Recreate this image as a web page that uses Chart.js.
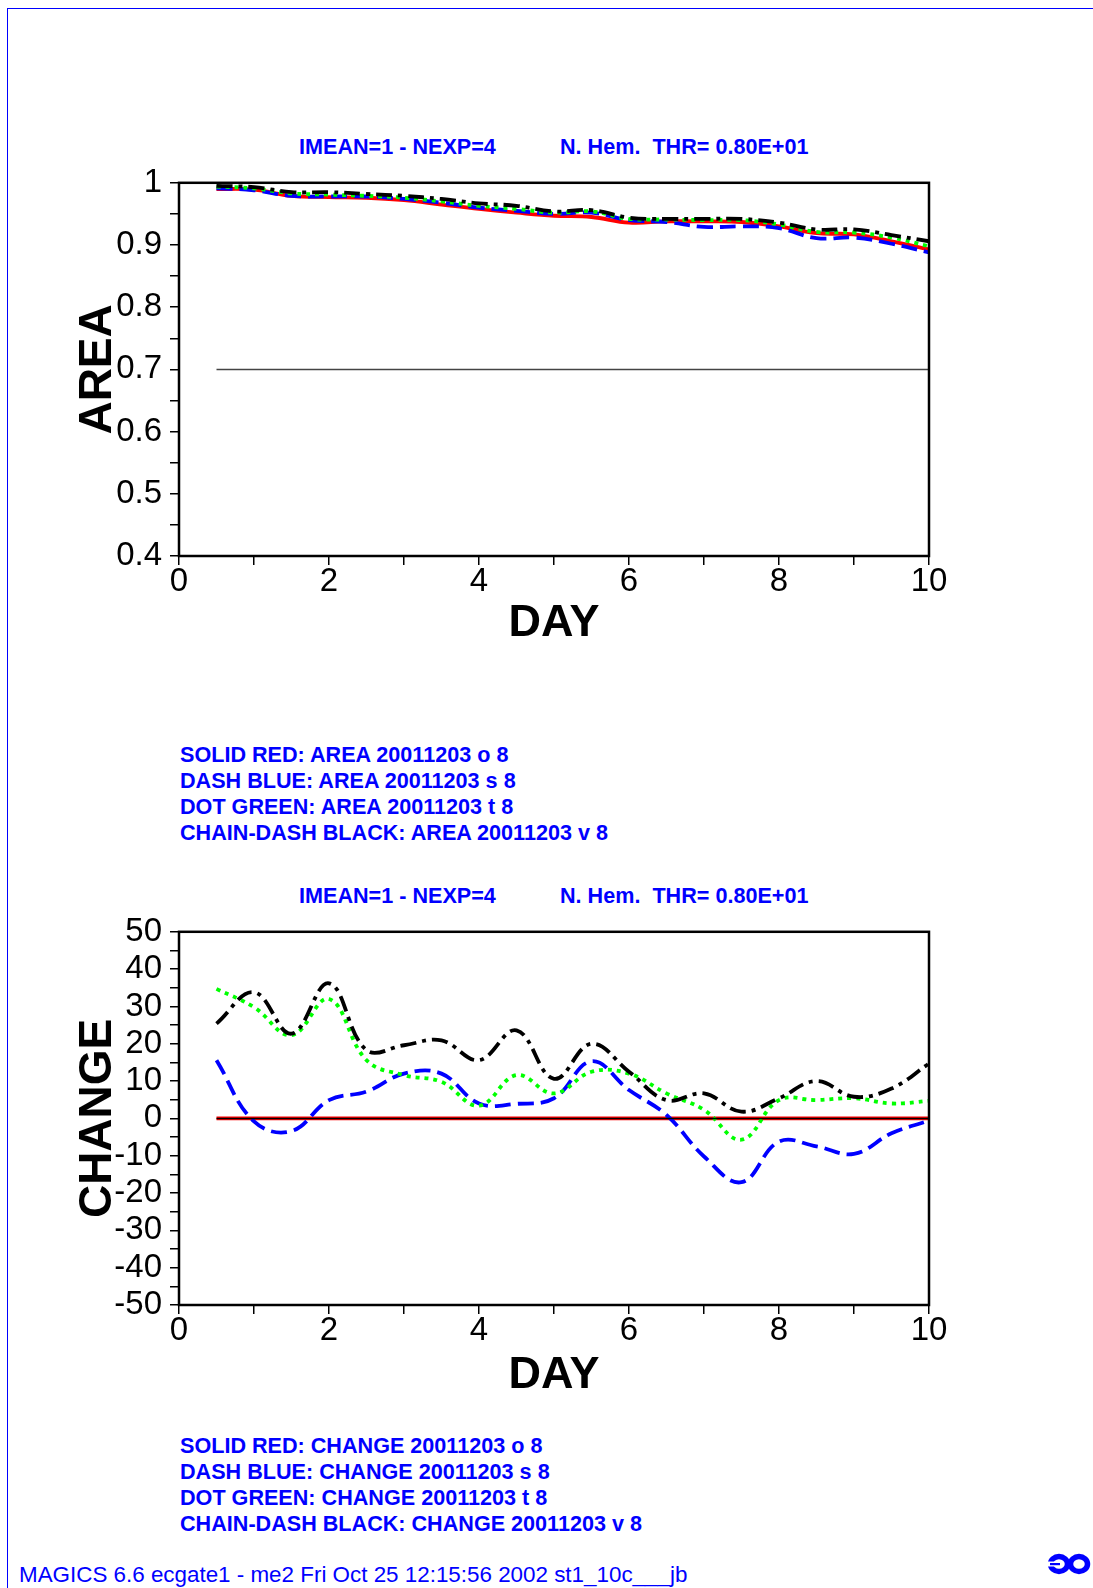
<!DOCTYPE html>
<html>
<head>
<meta charset="utf-8">
<script src="https://cdn.jsdelivr.net/npm/chart.js@4.4.0/dist/chart.umd.min.js"></script>
<style>
    body { margin: 0; width: 1093px; height: 1588px; position: relative; overflow: hidden; background: #fff;
           font-family: 'Liberation Sans', Arial, sans-serif; }
    .frame { position: absolute; left: 7px; top: 8px; right: 0; bottom: 0;
             border-top: 1.5px solid #0000ff; border-left: 1.5px solid #0000ff; }
    .txt { position: absolute; color: #0000ff; font-weight: bold; font-size: 21.6px; line-height: 26px; white-space: pre; }
    .foot { position: absolute; left: 19px; top: 1562px; color: #0000ff; font-size: 22.4px; line-height: 26px; white-space: pre; }
    canvas.chart { position: absolute; left: 0; }
</style>
</head>
<body>
<div class="frame"></div>

<div class="txt" style="left:299px; top:134px;">IMEAN=1 - NEXP=4</div>
<div class="txt" style="left:560px; top:134px;">N. Hem.  THR= 0.80E+01</div>
<canvas class="chart" id="areaChart" width="1093" height="505" style="top:155px;"></canvas>
<div class="txt" style="left:180px; top:742px;">SOLID RED: AREA 20011203 o 8
DASH BLUE: AREA 20011203 s 8
DOT GREEN: AREA 20011203 t 8
CHAIN-DASH BLACK: AREA 20011203 v 8</div>

<div class="txt" style="left:299px; top:883px;">IMEAN=1 - NEXP=4</div>
<div class="txt" style="left:560px; top:883px;">N. Hem.  THR= 0.80E+01</div>
<canvas class="chart" id="changeChart" width="1093" height="505" style="top:904px;"></canvas>
<div class="txt" style="left:180px; top:1433px;">SOLID RED: CHANGE 20011203 o 8
DASH BLUE: CHANGE 20011203 s 8
DOT GREEN: CHANGE 20011203 t 8
CHAIN-DASH BLACK: CHANGE 20011203 v 8</div>

<div class="foot">MAGICS 6.6 ecgate1 - me2 Fri Oct 25 12:15:56 2002 st1_10c___jb</div>
<canvas id="logo" width="50" height="30" style="position:absolute; left:1044px; top:1550px;"></canvas>

<script>
var days = [0.5, 1, 1.5, 2, 2.5, 3, 3.5, 4, 4.5, 5, 5.5, 6, 6.5, 7, 7.5, 8, 8.5, 9, 9.5, 10];
var refDays = [0.5, 10];

var areaRed   = [0.990, 0.989, 0.979, 0.977, 0.976, 0.972, 0.965, 0.958, 0.952, 0.947, 0.945, 0.936, 0.938, 0.938, 0.937, 0.930, 0.919, 0.917, 0.906, 0.893];
var areaBlue  = [0.991, 0.988, 0.979, 0.978, 0.978, 0.974, 0.968, 0.960, 0.955, 0.950, 0.952, 0.940, 0.937, 0.929, 0.930, 0.927, 0.911, 0.912, 0.902, 0.888];
var areaGreen = [0.994, 0.991, 0.983, 0.981, 0.979, 0.976, 0.970, 0.963, 0.958, 0.952, 0.954, 0.942, 0.941, 0.940, 0.940, 0.933, 0.921, 0.920, 0.912, 0.898];
var areaBlack = [0.995, 0.993, 0.985, 0.985, 0.982, 0.979, 0.974, 0.967, 0.963, 0.954, 0.956, 0.944, 0.942, 0.942, 0.942, 0.936, 0.925, 0.925, 0.916, 0.906];
var areaRef   = [0.7, 0.7];

var changeRed   = [0, 0, 0, 0, 0, 0, 0, 0, 0, 0, 0, 0, 0, 0, 0, 0, 0, 0, 0, 0];
var changeBlue  = [15.6, -0.8, -3.4, 4.9, 7.2, 12.0, 12.0, 4.0, 3.9, 5.4, 15.3, 7.6, 0.9, -10.2, -17.1, -6.2, -7.5, -9.5, -4.0, -0.6];
var changeGreen = [34.7, 29.8, 22.3, 32.0, 15.6, 11.6, 9.8, 3.4, 11.6, 6.7, 12.5, 12.0, 6.7, 2.3, -5.7, 4.9, 4.9, 5.4, 4.0, 4.7];
var changeBlack = [25.4, 33.8, 22.7, 36.2, 18.3, 19.6, 20.9, 15.6, 23.6, 10.6, 20.0, 12.5, 4.9, 6.7, 1.8, 5.4, 10.0, 5.8, 8.0, 14.7];
var changeRef   = [0, 0];

var dayTicks = [0, 2, 4, 6, 8, 10];
var areaTicks = [0.4, 0.5, 0.6, 0.7, 0.8, 0.9, 1];
var changeTicks = [-50, -40, -30, -20, -10, 0, 10, 20, 30, 40, 50];

function points(xs, ys) {
    return xs.map(function(x, i) { return { x: x, y: ys[i] }; });
}

// majors plus a minor tick half way between each pair
function withMinors(major) {
    var out = [];
    major.forEach(function(v, i) {
        out.push({ value: v });
        if (i < major.length - 1) {
            out.push({ value: (v + major[i + 1]) / 2 });
        }
    });
    return out;
}

function isMajor(major, v) {
    return major.some(function(m) { return Math.abs(m - v) < 1e-9; });
}

var framePlugin = {
    id: 'frame',
    afterDraw: function(chart) {
        var a = chart.chartArea, ctx = chart.ctx;
        ctx.save();
        ctx.strokeStyle = '#000';
        ctx.lineWidth = 2.5;
        ctx.strokeRect(a.left, a.top, a.right - a.left, a.bottom - a.top);
        ctx.restore();
    }
};

function line(data, color, width, dash) {
    return {
        data: data,
        borderColor: color,
        borderWidth: width,
        borderDash: dash,
        pointRadius: 0,
        tension: 0.4,
        fill: false
    };
}

function CreateChart(elementName, yTitle, yMin, yMax, yMajor, dayPad, series) {
    var ctx = document.getElementById(elementName);

    return new Chart(ctx, {
        type: 'line',
        data: { datasets: series },
        options: getOptions(yTitle, yMin, yMax, yMajor, dayPad),
        plugins: [framePlugin]
    });
}

function getOptions(yTitle, yMin, yMax, yMajor, dayPad) {
    var tickFont = { family: 'Liberation Sans', size: 33 },
        titleFont = { family: 'Liberation Sans', size: 46, weight: 'bold', lineHeight: 1 };

    return {
        responsive: false,
        animation: false,
        layout: { padding: { top: 17, right: 164, left: 0, bottom: 0 } },
        plugins: { legend: { display: false }, tooltip: { enabled: false } },
        scales: {
            x: {
                type: 'linear',
                min: 0,
                max: 10,
                afterBuildTicks: function(scale) { scale.ticks = withMinors(dayTicks); },
                afterFit: function(scale) { scale.height = 104; },
                border: { display: false },
                grid: { drawOnChartArea: false, tickLength: 9, color: '#000', lineWidth: 1.5 },
                ticks: {
                    autoSkip: false,
                    maxRotation: 0,
                    padding: -3,
                    color: '#000',
                    font: tickFont,
                    callback: function(v) { return isMajor(dayTicks, v) ? String(v) : ''; }
                },
                title: { display: true, text: 'DAY', color: '#000', font: { family: 'Liberation Sans', size: 45, weight: 'bold', lineHeight: 1 }, padding: { top: 0, bottom: dayPad } }
            },
            y: {
                min: yMin,
                max: yMax,
                afterBuildTicks: function(scale) { scale.ticks = withMinors(yMajor); },
                afterFit: function(scale) { scale.width = 179; },
                border: { display: false },
                grid: { drawOnChartArea: false, tickLength: 9, color: '#000', lineWidth: 1.5 },
                ticks: {
                    autoSkip: false,
                    padding: 8,
                    color: '#000',
                    font: tickFont,
                    callback: function(v) { return isMajor(yMajor, v) ? String(v) : ''; }
                },
                title: { display: true, text: yTitle, color: '#000', font: titleFont, padding: { top: 75, bottom: 0 } }
            }
        }
    };
}

var areaChart = CreateChart('areaChart', 'AREA', 0.4, 1, areaTicks, 14, [
    line(points(refDays, areaRef), '#444', 1.5, []),
    line(points(days, areaBlack), '#000', 3.8, [16, 6, 4, 6]),
    line(points(days, areaGreen), '#00ff00', 3.8, [4, 5]),
    line(points(days, areaBlue), '#0000ff', 3.8, [16, 7]),
    line(points(days, areaRed), '#ff0000', 3.8, [])
]);

var changeChart = CreateChart('changeChart', 'CHANGE', -50, 50, changeTicks, 11, [
    line(points(refDays, changeRef), '#000', 1.5, []),
    line(points(days, changeBlack), '#000', 3.8, [16, 6, 4, 6]),
    line(points(days, changeGreen), '#00ff00', 3.8, [4, 5]),
    line(points(days, changeBlue), '#0000ff', 3.8, [16, 7]),
    line(points(days, changeRed), '#ff0000', 3.8, [])
]);

// ECMWF style logo, bottom right
(function() {
    var c = document.getElementById('logo').getContext('2d');
    c.strokeStyle = '#0000ff';
    c.lineWidth = 5.5;
    c.beginPath(); c.ellipse(15, 14, 8.5, 7.5, 0, 0, Math.PI * 2); c.stroke();
    c.beginPath(); c.ellipse(35, 14, 8.5, 7.5, 0, 0, Math.PI * 2); c.stroke();
    c.fillStyle = '#fff';
    c.fillRect(3, 11.5, 12, 5);
    c.fillStyle = '#0000ff';
    c.fillRect(6, 13, 10, 2.2);
})();
</script>
</body>
</html>
